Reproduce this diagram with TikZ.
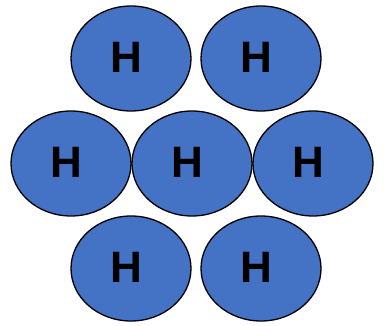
\documentclass[tikz,border=0pt]{standalone}
\usepackage{fontspec}
\setmainfont{Liberation Sans}
\usetikzlibrary{shapes.geometric}
\definecolor{hblue}{HTML}{4472C4}
\tikzset{
  atom/.style={ellipse, draw=black, line width=1.3pt, fill=hblue, minimum width=120pt, minimum height=105pt, inner sep=0pt},
  lbl/.style={font=\fontsize{44}{44}\selectfont\bfseries, text=black, inner sep=0pt}
}
\begin{document}
\begin{tikzpicture}[x=1pt,y=-1pt]
\useasboundingbox (0,0) rectangle (386,326);
\foreach \n/\x/\y in {a/131/58.5, b/261/58.5, c/71/163.5, d/192/163.5, e/313/163.5, f/131/268.5, g/261/268.5}{
  \node[atom] (\n) at (\x,\y) {};
  \node[lbl] (h\n) at ([xshift=-5pt,yshift=1pt]\n.center) {H};
}
\end{tikzpicture}
\end{document}
